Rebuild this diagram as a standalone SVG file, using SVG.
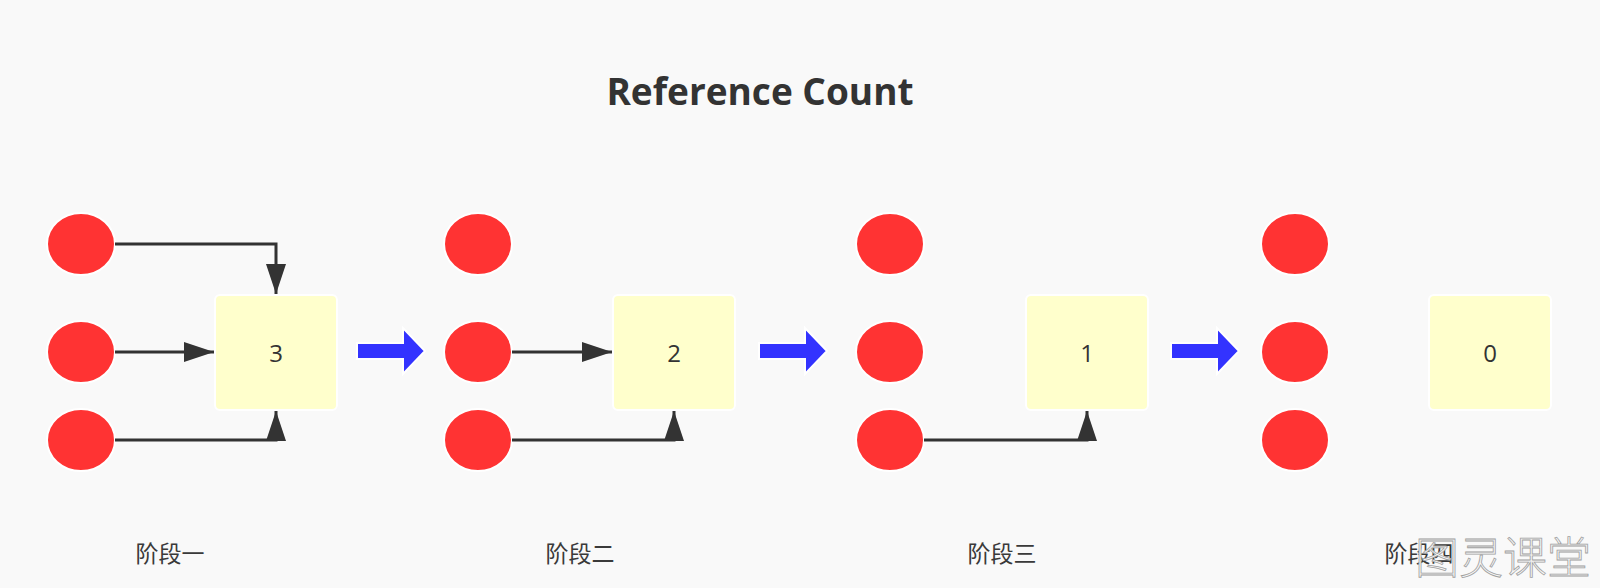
<svg xmlns="http://www.w3.org/2000/svg" width="1600" height="588" viewBox="0 0 1600 588">
<style>
.bg{fill:#f9f9f9}
.obj{fill:#ff3333;stroke:#ffffff;stroke-width:2}
.cnt{fill:#ffffcc;stroke:#ffffff;stroke-width:2}
.num{font-family:"Open Sans","Liberation Sans",sans-serif;font-size:24px;fill:#333333;text-anchor:middle}
.title{font-family:"Open Sans","Liberation Sans",sans-serif;font-size:37px;font-weight:bold;fill:#333333;text-anchor:middle}
.lbl{font-family:"Noto Sans CJK SC",sans-serif;font-size:23px;fill:#3a3a3a;text-anchor:middle}
.ref{fill:none;stroke:#333333;stroke-width:3}
.step{fill:#3333ff;stroke:#ffffff;stroke-width:2}
.wm{font-family:"Noto Sans CJK SC",sans-serif;font-size:44px;font-weight:300;fill:#f6f6f6;stroke:#a0a0a0;stroke-width:0.8}
</style>
<defs>
<marker id="ah" markerUnits="userSpaceOnUse" markerWidth="32" markerHeight="22" refX="30" refY="10" orient="auto">
<path d="M0,0 L30,10 L0,20 Z" fill="#333333"/>
</marker>
</defs>
<rect class="bg" x="0" y="0" width="1600" height="588"/>
<text id="title" class="title" x="760" y="105">Reference Count</text>

<g id="stage1">
<ellipse class="obj" cx="81" cy="244" rx="34" ry="31"/>
<ellipse class="obj" cx="81" cy="352" rx="34" ry="31"/>
<ellipse class="obj" cx="81" cy="440" rx="34" ry="31"/>
<rect class="cnt" x="215" y="295" width="122" height="115" rx="5"/>
<text class="num" x="276" y="362">3</text>
<text class="lbl" x="170" y="562">阶段一</text>
</g>
<g id="stage2">
<ellipse class="obj" cx="478" cy="244" rx="34" ry="31"/>
<ellipse class="obj" cx="478" cy="352" rx="34" ry="31"/>
<ellipse class="obj" cx="478" cy="440" rx="34" ry="31"/>
<rect class="cnt" x="613" y="295" width="122" height="115" rx="5"/>
<text class="num" x="674" y="362">2</text>
<text class="lbl" x="580" y="562">阶段二</text>
</g>
<g id="stage3">
<ellipse class="obj" cx="890" cy="244" rx="34" ry="31"/>
<ellipse class="obj" cx="890" cy="352" rx="34" ry="31"/>
<ellipse class="obj" cx="890" cy="440" rx="34" ry="31"/>
<rect class="cnt" x="1026" y="295" width="122" height="115" rx="5"/>
<text class="num" x="1087" y="362">1</text>
<text class="lbl" x="1002" y="562">阶段三</text>
</g>
<g id="stage4">
<ellipse class="obj" cx="1295" cy="244" rx="34" ry="31"/>
<ellipse class="obj" cx="1295" cy="352" rx="34" ry="31"/>
<ellipse class="obj" cx="1295" cy="440" rx="34" ry="31"/>
<rect class="cnt" x="1429" y="295" width="122" height="115" rx="5"/>
<text class="num" x="1490" y="362">0</text>
<text class="lbl" x="1419" y="562">阶段四</text>
</g>

<g id="connectors">
<path class="ref" d="M115,244 H276 V294" marker-end="url(#ah)"/>
<path class="ref" d="M115,352 H214" marker-end="url(#ah)"/>
<path class="ref" d="M115,440 H276 V411" marker-end="url(#ah)"/>
<path class="ref" d="M512,352 H612" marker-end="url(#ah)"/>
<path class="ref" d="M512,440 H674 V411" marker-end="url(#ah)"/>
<path class="ref" d="M924,440 H1087 V411" marker-end="url(#ah)"/>
<path class="step" d="M357,343 H403 V328 L425,351 L403,374 V359 H357 Z"/>
<path class="step" d="M759,343 H805 V328 L827,351 L805,374 V359 H759 Z"/>
<path class="step" d="M1171,343 H1217 V328 L1239,351 L1217,374 V359 H1171 Z"/>
</g>

<text id="watermark" class="wm" x="1415" y="574">图灵课堂</text>
</svg>
